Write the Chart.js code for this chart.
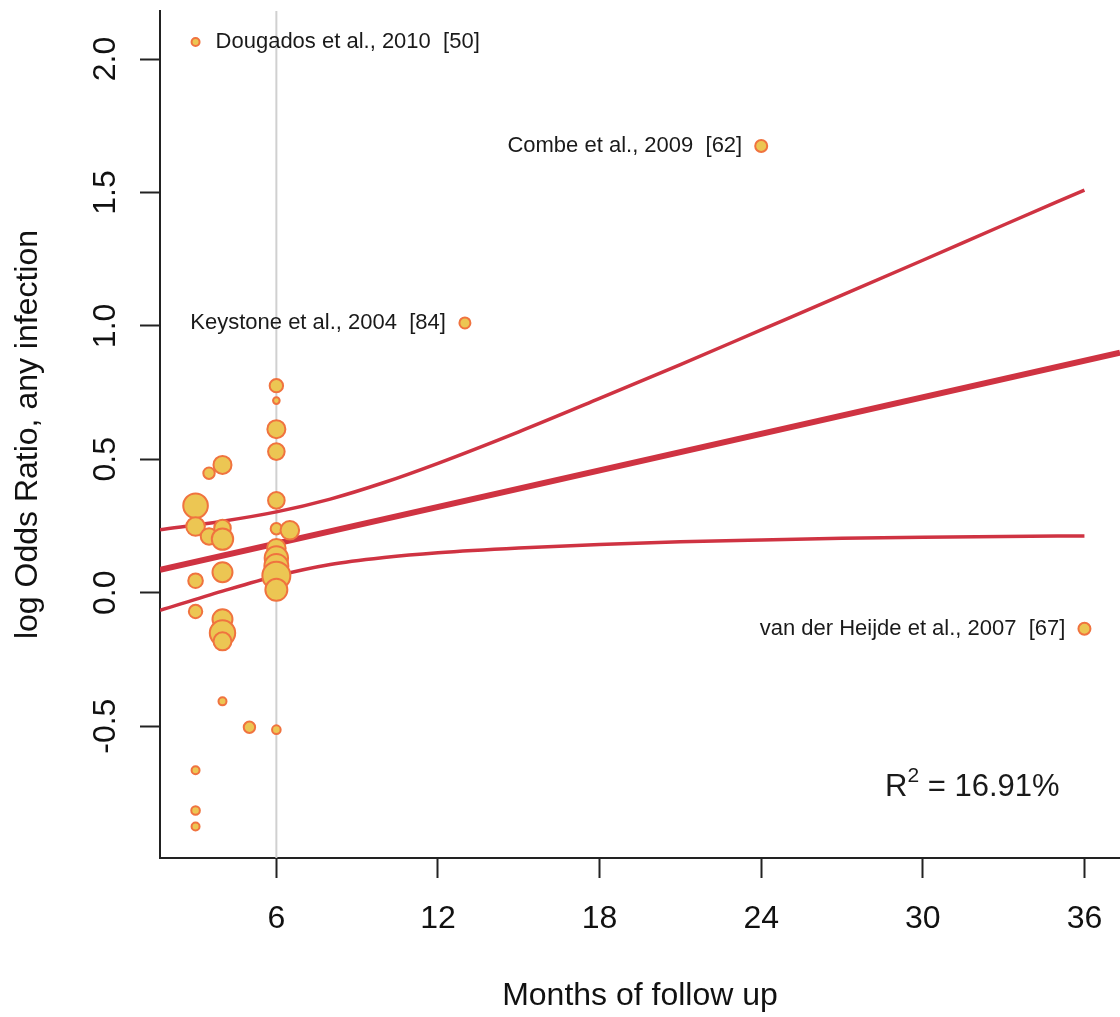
<!DOCTYPE html>
<html lang="en">
<head>
<meta charset="UTF-8" />
<title>Meta-regression – months of follow up</title>
<script src="https://cdn.jsdelivr.net/npm/chart.js"></script>
<style>
  html, body { margin: 0; padding: 0; background: #fff; }
  #wrap { width: 1120px; height: 1017px; }
</style>
</head>
<body>
<div id="wrap"><canvas id="metaChart" width="1120" height="1017"></canvas></div>
<script>
// study estimates: follow-up (months), log odds ratio, relative weight
const months = [3, 3, 3, 3, 3, 3, 3,
                3.5, 3.5,
                4, 4, 4, 4, 4, 4, 4, 4,
                5,
                6, 6, 6, 6, 6, 6, 6, 6, 6, 6, 6, 6, 6,
                6.5];
const logOR = [0.326, 0.248, 0.045, -0.07, -0.665, -0.816, -0.876,
               0.448, 0.211,
               0.479, 0.242, 0.201, 0.077, -0.099, -0.151, -0.182, -0.407,
               -0.504,
               0.776, 0.720, 0.613, 0.529, 0.346, 0.240, 0.167, 0.130, 0.100, 0.089, 0.064, 0.011, -0.513,
               0.234];
const weights = [12.3, 9.3, 7.3, 6.7, 4, 4.3, 4,
                 5.7, 8.3,
                 9, 8.3, 10.7, 10, 10, 12.7, 9, 4,
                 5.7,
                 6.7, 3.3, 9, 8.3, 8.3, 5.7, 9.3, 11.7, 12, 5, 14, 11, 4.3,
                 9.3];

// studies named on the plot
const namedStudies = ["Dougados et al., 2010  [50]", "Combe et al., 2009  [62]",
                      "Keystone et al., 2004  [84]", "van der Heijde et al., 2007  [67]"];
const namedMonths = [3, 24, 13, 36];
const namedLogOR = [2.064, 1.674, 1.011, -0.135];
const namedWeights = [4, 6, 5.5, 6];

// fitted meta-regression line and 95% CI band
const fitMonths = [1.68, 37.32];
const fitValues = [0.0855, 0.900];
const ciMonths = [1.68, 4, 6, 8, 10, 12, 15, 18, 21, 24, 27, 30, 33, 36];
const ciUpper = [0.236, 0.268, 0.303, 0.351, 0.413, 0.485, 0.603, 0.728, 0.855, 0.985, 1.115, 1.246, 1.378, 1.509];
const ciLower = [-0.066, 0.006, 0.063, 0.106, 0.132, 0.150, 0.168, 0.181, 0.191, 0.198, 0.204, 0.208, 0.211, 0.213];

const refMonth = 6;
const xTicks = [6, 12, 18, 24, 30, 36];
const yTicks = [-0.5, 0, 0.5, 1, 1.5, 2];
const rSquared = "16.91%";

const X_MIN = 1.68, X_MAX = 37.32, Y_MIN = -0.994, Y_MAX = 2.18;
const FONT = '"Liberation Sans", Arial, Helvetica, sans-serif';
const LINE_RED = '#cf3342';
const DOT_FILL = '#ecc653';
const DOT_EDGE = '#f0733f';

const toPoints = (xs, ys) => xs.map((x, i) => ({ x: x, y: ys[i] }));

// no extra room for tick labels: plot box runs to the canvas edge
const noPadding = s => {
  s.paddingLeft = 0; s.paddingRight = 0; s.paddingTop = 0; s.paddingBottom = 0;
};

// labels, axis text and R² drawn on top of the chart
const textPlugin = {
  id: 'plotText',
  afterDatasetsDraw(chart) {
    const { ctx, scales: { x, y } } = chart;
    ctx.save();
    ctx.font = '22px ' + FONT;
    ctx.fillStyle = '#1a1a1a';
    ctx.textBaseline = 'middle';
    namedStudies.forEach((name, i) => {
      const px = x.getPixelForValue(namedMonths[i]);
      const py = y.getPixelForValue(namedLogOR[i]);
      if (i === 0) {
        ctx.textAlign = 'left';
        ctx.fillText(name, px + 20, py);
      } else {
        ctx.textAlign = 'right';
        ctx.fillText(name, px - 19, py);
      }
    });

    // R squared, bottom right
    const rx = x.getPixelForValue(28.6);
    const ry = y.getPixelForValue(-0.76);
    ctx.textBaseline = 'alphabetic';
    ctx.textAlign = 'left';
    ctx.font = '31px ' + FONT;
    ctx.fillText('R', rx, ry);
    let w = ctx.measureText('R').width;
    ctx.font = '21px ' + FONT;
    ctx.fillText('2', rx + w, ry - 14);
    w += ctx.measureText('2').width;
    ctx.font = '31px ' + FONT;
    ctx.fillText(' = ' + rSquared, rx + w, ry);
    ctx.restore();
  },
  afterDraw(chart) {
    const { ctx, chartArea, scales: { y } } = chart;
    ctx.save();
    ctx.fillStyle = '#111';
    ctx.font = '32px ' + FONT;
    ctx.textAlign = 'center';
    ctx.textBaseline = 'alphabetic';
    // rotated y tick labels
    yTicks.forEach(v => {
      const py = y.getPixelForValue(v);
      ctx.save();
      ctx.translate(115, py);
      ctx.rotate(-Math.PI / 2);
      ctx.fillText(v.toFixed(1), 0, 0);
      ctx.restore();
    });
    // y title
    ctx.save();
    ctx.translate(37, (chartArea.top + chartArea.bottom) / 2);
    ctx.rotate(-Math.PI / 2);
    ctx.fillText('log Odds Ratio, any infection', 0, 0);
    ctx.restore();
    // x title
    ctx.fillText('Months of follow up', (chartArea.left + chartArea.right) / 2, 1005);
    ctx.restore();
  }
};

new Chart(document.getElementById('metaChart'), {
  type: 'scatter',
  data: {
    datasets: [
      {
        label: 'Studies',
        data: toPoints(months, logOR).concat(toPoints(namedMonths, namedLogOR)),
        pointRadius: ctx => weights.concat(namedWeights)[ctx.dataIndex],
        backgroundColor: DOT_FILL,
        borderColor: DOT_EDGE,
        borderWidth: 2,
        order: 0
      },
      {
        type: 'line',
        label: 'Fit',
        data: toPoints(fitMonths, fitValues),
        borderColor: LINE_RED,
        borderWidth: 6,
        pointRadius: 0,
        order: 1
      },
      {
        type: 'line',
        label: 'Upper 95% CI',
        data: toPoints(ciMonths, ciUpper),
        borderColor: LINE_RED,
        borderWidth: 3.5,
        pointRadius: 0,
        cubicInterpolationMode: 'monotone',
        order: 1
      },
      {
        type: 'line',
        label: 'Lower 95% CI',
        data: toPoints(ciMonths, ciLower),
        borderColor: LINE_RED,
        borderWidth: 3.5,
        pointRadius: 0,
        cubicInterpolationMode: 'monotone',
        order: 1
      },
      {
        type: 'line',
        label: '6 months',
        data: toPoints([refMonth, refMonth], [Y_MIN, Y_MAX]),
        borderColor: '#d0d0d0',
        borderWidth: 2,
        pointRadius: 0,
        order: 2
      }
    ]
  },
  options: {
    responsive: false,
    animation: false,
    layout: { autoPadding: false, padding: { top: 11, right: 0, left: 0, bottom: 0 } },
    plugins: { legend: { display: false }, tooltip: { enabled: false } },
    scales: {
      x: {
        type: 'linear',
        min: X_MIN,
        max: X_MAX,
        afterBuildTicks: s => { s.ticks = xTicks.map(v => ({ value: v })); },
        afterFit: s => { s.height = 159; noPadding(s); },
        ticks: {
          padding: 22,
          color: '#111',
          font: { family: FONT, size: 32 },
          maxRotation: 0,
          callback: v => String(v)
        },
        grid: { drawOnChartArea: false, drawTicks: true, tickLength: 20, tickWidth: 2, tickColor: '#222' },
        border: { display: true, color: '#222', width: 2 }
      },
      y: {
        type: 'linear',
        min: Y_MIN,
        max: Y_MAX,
        afterBuildTicks: s => { s.ticks = yTicks.map(v => ({ value: v })); },
        afterFit: s => { s.width = 160; noPadding(s); },
        ticks: { display: false },
        grid: { drawOnChartArea: false, drawTicks: true, tickLength: 20, tickWidth: 2, tickColor: '#222' },
        border: { display: true, color: '#222', width: 2 }
      }
    }
  },
  plugins: [textPlugin]
});
</script>
</body>
</html>
